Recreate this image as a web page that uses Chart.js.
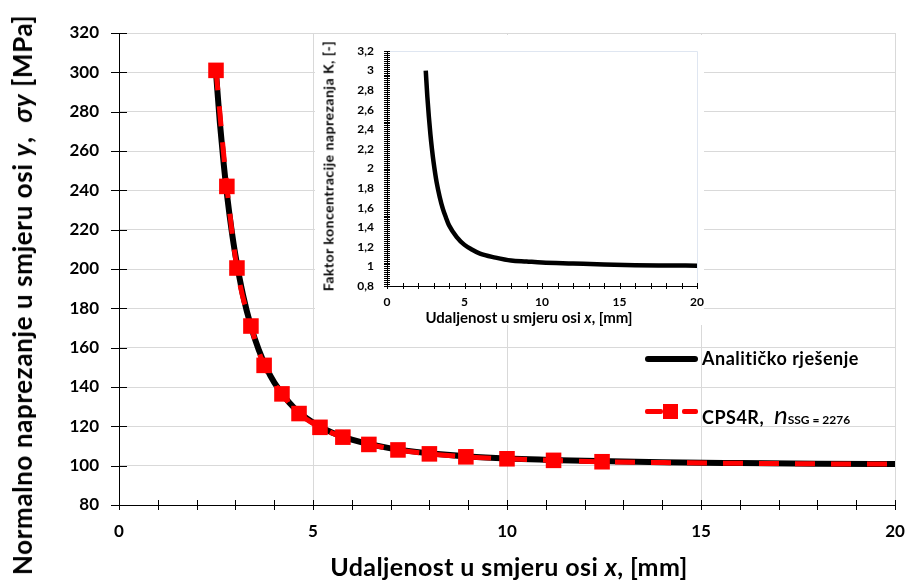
<!DOCTYPE html>
<html>
<head>
<meta charset="utf-8">
<script src="https://cdn.jsdelivr.net/npm/chart.js@4.4.1/dist/chart.umd.min.js"></script>
<style>
  body { margin: 0; background: #fff; }
  #wrap { position: relative; width: 906px; height: 581px; font-family: Lato, "Open Sans", sans-serif; font-weight: 700; color: #000; }
  #inset { position: absolute; left: 315px; top: 35px; background: #fff; }
  .t { position: absolute; white-space: nowrap; transform: translate(-50%, -50%); }
  .rot { transform: translate(-50%, -50%) rotate(-90deg); }
  .leg { position: absolute; white-space: nowrap; font-size: 18px; letter-spacing: 0.5px; }
  .swatch { position: absolute; }
</style>
</head>
<body>
<div id="wrap">
  <canvas id="main" width="906" height="581"></canvas>
  <canvas id="inset" width="389" height="290"></canvas>

  <div class="t rot" style="left:22px; top:295px; font-size:26px; letter-spacing:0.6px;">Normalno naprezanje u smjeru osi <i>y</i>,&nbsp;&nbsp;<i>σy</i> [MPa]</div>
  <div class="t" style="left:509px; top:566px; font-size:25px; letter-spacing:0.4px;">Udaljenost u smjeru osi <i>x</i>, [mm]</div>

  <div class="t rot" style="left:328px; top:166px; font-size:14px; letter-spacing:0.5px;">Faktor koncentracije naprezanja K, [-]</div>
  <div class="t" style="left:529px; top:317px; font-size:15px;">Udaljenost u smjeru osi <i>x</i>, [mm]</div>

  <div class="swatch" style="left:645px; top:356px; width:53px; height:6px; background:#000; border-radius:3px;"></div>
  <div class="leg" style="left:702px; top:347px;">Analitičko rješenje</div>

  <div class="swatch" style="left:645px; top:409px; width:18px; height:5px; background:#f00; border-radius:2px;"></div>
  <div class="swatch" style="left:663px; top:404px; width:15px; height:15px; background:#f00;"></div>
  <div class="swatch" style="left:682px; top:409px; width:16px; height:5px; background:#f00; border-radius:2px;"></div>
  <div class="leg" style="left:702px; top:398px;">CPS4R,&nbsp; <i style="font-size:26px; font-weight:400; letter-spacing:0;">n</i><span style="font-size:12px; letter-spacing:0;">SSG = 2276</span></div>
</div>

<script>
// Analitičko rješenje (Kirsch)
const xAnalytic = [2.5, 2.6, 2.7, 2.8, 2.9, 3.0, 3.2, 3.4, 3.6, 3.8, 4.0, 4.5, 5.0, 5.5, 6.0, 7.0, 8.0, 9.0, 10, 12, 14, 16, 18, 20];
const sigmaAnalytic = [300, 274.4, 253.1, 235.2, 220.0, 207.1, 186.4, 170.9, 159.0, 149.7, 142.4, 129.7, 121.9, 116.7, 113.2, 108.8, 106.3, 104.7, 103.7, 102.5, 101.7, 101.3, 101.0, 100.8];
const kAnalytic = [3.0, 2.74, 2.53, 2.35, 2.2, 2.07, 1.86, 1.71, 1.59, 1.5, 1.42, 1.3, 1.22, 1.17, 1.13, 1.09, 1.06, 1.05, 1.04, 1.03, 1.02, 1.013, 1.01, 1.008];

// CPS4R results (markers shown up to x = 12.45)
const xFem = [2.5, 2.78, 3.04, 3.4, 3.74, 4.2, 4.64, 5.18, 5.77, 6.44, 7.19, 8.0, 8.94, 10.0, 11.2, 12.45, 13.9, 15.5, 17.3, 20];
const sigmaFem = [301, 242, 200.5, 171, 151, 136.5, 126.5, 119.5, 114.5, 110.8, 108, 106, 104.5, 103.5, 102.7, 102, 101.6, 101.3, 101, 100.8];
const markerCount = 16;

const mainXTicks = [0, 5, 10, 15, 20];
const fontTick = { family: 'Lato', weight: 'bold', size: 17 };
const fontTickSmall = { family: 'Lato', weight: 'bold', size: 12 };

const pts = (xs, ys) => xs.map((x, i) => ({ x: x, y: ys[i] }));

// tick marks crossing the axes, like Excel
const crossTicks = {
  id: 'crossTicks',
  afterDraw(chart, args, o) {
    const { ctx, chartArea: a, scales } = chart;
    ctx.save();
    if (o.frame) {
      ctx.strokeStyle = '#dfe6f1';
      ctx.beginPath();
      ctx.moveTo(a.left, a.top + 0.5); ctx.lineTo(a.right + 0.5, a.top + 0.5); ctx.lineTo(a.right + 0.5, a.bottom);
      ctx.stroke();
    }
    ctx.strokeStyle = '#000';
    ctx.lineWidth = 1;
    ctx.beginPath();
    scales.x.ticks.forEach(t => {
      const px = Math.round(scales.x.getPixelForValue(t.value)) + 0.5;
      ctx.moveTo(px, a.bottom - o.xLen); ctx.lineTo(px, a.bottom + o.xLen);
    });
    scales.y.ticks.forEach(t => {
      const py = Math.round(scales.y.getPixelForValue(t.value)) + 0.5;
      ctx.moveTo(a.left - o.yLen, py); ctx.lineTo(a.left + o.yLen, py);
    });
    if (o.yMinor) {
      const n = Math.round((scales.y.max - scales.y.min) / o.yMinor);
      for (let i = 0; i <= n; i++) {
        const py = Math.round(scales.y.getPixelForValue(scales.y.min + i * o.yMinor)) + 0.5;
        ctx.moveTo(a.left - o.yMinorLen, py); ctx.lineTo(a.left + o.yMinorLen, py);
      }
    }
    ctx.stroke();
    ctx.restore();
  }
};

const fitX = h => s => { s.height = h; s.paddingLeft = 0; s.paddingRight = 0; };
const fitY = w => s => { s.width = w; s.paddingTop = 0; s.paddingBottom = 0; };

new Chart(document.getElementById('main'), {
  type: 'line',
  data: {
    datasets: [{
      label: 'CPS4R',
      data: pts(xFem, sigmaFem),
      borderColor: '#ff0000',
      borderWidth: 5,
      borderDash: [20, 16],
      pointStyle: 'rect',
      pointRadius: xFem.map((x, i) => i < markerCount ? 11 : 0),
      pointBackgroundColor: '#ff0000',
      pointBorderWidth: 0,
      cubicInterpolationMode: 'monotone',
      order: 0
    }, {
      label: 'Analitičko rješenje',
      data: pts(xAnalytic, sigmaAnalytic),
      borderColor: '#000',
      borderWidth: 6,
      pointRadius: 0,
      cubicInterpolationMode: 'monotone',
      order: 1
    }]
  },
  options: {
    responsive: false,
    animation: false,
    layout: { padding: { top: 33, right: 11, left: 0, bottom: 0 } },
    plugins: {
      legend: { display: false },
      tooltip: { enabled: false },
      crossTicks: { xLen: 5, yLen: 8 }
    },
    scales: {
      x: {
        type: 'linear', min: 0, max: 20,
        afterFit: fitX(76),
        ticks: {
          stepSize: 1, autoSkip: false, maxRotation: 0, padding: 16,
          color: '#000', font: fontTick,
          callback: v => mainXTicks.includes(v) ? v : ''
        },
        grid: {
          drawTicks: false,
          color: c => mainXTicks.includes(c.tick.value) ? '#d9d9d9' : 'transparent'
        },
        border: { color: '#000', width: 1 }
      },
      y: {
        min: 80, max: 320,
        afterFit: fitY(119),
        ticks: { stepSize: 20, padding: 20, color: '#000', font: fontTick },
        grid: { drawTicks: false, color: '#d9d9d9' },
        border: { color: '#000', width: 1 }
      }
    }
  },
  plugins: [crossTicks]
});

new Chart(document.getElementById('inset'), {
  type: 'line',
  data: {
    datasets: [{
      label: 'K',
      data: pts(xAnalytic, kAnalytic),
      borderColor: '#000',
      borderWidth: 4.5,
      pointRadius: 0,
      cubicInterpolationMode: 'monotone'
    }]
  },
  options: {
    responsive: false,
    animation: false,
    layout: { padding: { top: 16, right: 7, left: 0, bottom: 0 } },
    plugins: {
      legend: { display: false },
      tooltip: { enabled: false },
      crossTicks: { xLen: 3, yLen: 3, yMinor: 0.02, yMinorLen: 3, frame: true }
    },
    scales: {
      x: {
        type: 'linear', min: 0, max: 20,
        afterFit: fitX(39),
        ticks: {
          stepSize: 1, autoSkip: false, maxRotation: 0, padding: 9,
          color: '#000', font: fontTickSmall,
          callback: v => mainXTicks.includes(v) ? v : ''
        },
        grid: { display: false, drawTicks: false },
        border: { color: '#000', width: 1 }
      },
      y: {
        min: 0.8, max: 3.2,
        afterFit: fitY(72),
        ticks: {
          stepSize: 0.2, padding: 13, color: '#000', font: fontTickSmall,
          callback: v => String(+v.toFixed(1)).replace('.', ',')
        },
        grid: { display: false, drawTicks: false },
        border: { color: '#000', width: 1 }
      }
    }
  },
  plugins: [crossTicks]
});
</script>
</body>
</html>
